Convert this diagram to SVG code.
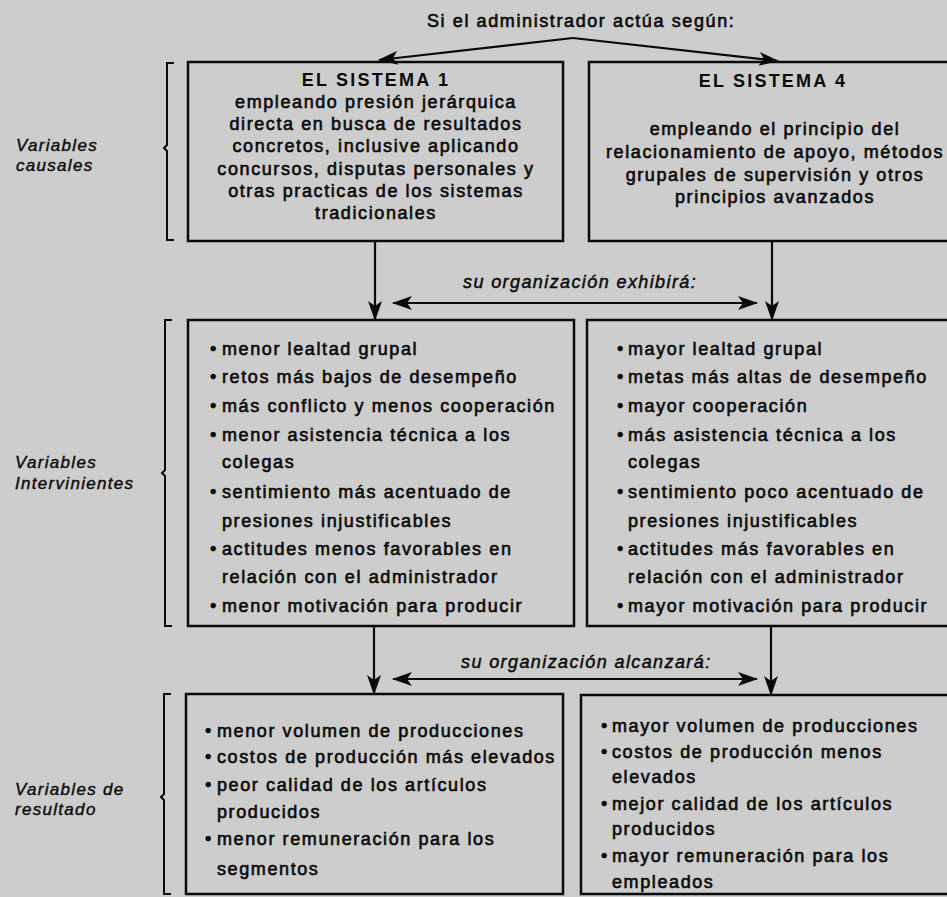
<svg xmlns="http://www.w3.org/2000/svg" width="947" height="897" viewBox="0 0 947 897">
<defs>
<style>
.bg{fill:#cdcdcd}
.box{fill:none;stroke:#0a0a0a;stroke-width:2.5}
.br{fill:none;stroke:#0a0a0a;stroke-width:2}
.t{font-family:"Liberation Sans",Arial,sans-serif;font-size:18px;letter-spacing:1.6px;fill:#0a0a0a;stroke:#0a0a0a;stroke-width:0.6}
.h{font-family:"Liberation Sans",Arial,sans-serif;font-size:18px;font-weight:bold;letter-spacing:2.2px;fill:#0a0a0a}
.c{text-anchor:middle}
.lab{font-family:"Liberation Sans",Arial,sans-serif;font-size:17px;font-style:italic;letter-spacing:1.3px;fill:#0a0a0a;stroke:#0a0a0a;stroke-width:0.4}
.it{font-family:"Liberation Sans",Arial,sans-serif;font-size:18px;font-style:italic;letter-spacing:1.4px;fill:#0a0a0a;stroke:#0a0a0a;stroke-width:0.45}
.ln{fill:none;stroke:#0a0a0a;stroke-width:2.2}
</style>
<marker id="ah" viewBox="0 0 20 14" refX="19" refY="7" markerWidth="20" markerHeight="14" markerUnits="userSpaceOnUse" orient="auto-start-reverse">
<path d="M0,0 L20,7 L0,14 L5,7 z" fill="#0a0a0a"/>
</marker>
</defs>
<rect class="bg" x="0" y="0" width="947" height="897"/>

<text class="t" x="427" y="27">Si el administrador actúa según:</text>

<g id="lbl-causales">
<text class="lab" x="16" y="151">Variables</text>
<text class="lab" x="16" y="171">causales</text>
<path class="br" d="M174,63 L167,63 L167,145 L164,148 L167,151 L167,240 L174,240"/>
</g>
<g id="lbl-intervinientes">
<text class="lab" x="15" y="468">Variables</text>
<text class="lab" x="15" y="489">Intervinientes</text>
<path class="br" d="M172,320 L165,320 L165,470 L162,473 L165,476 L165,626 L172,626"/>
</g>
<g id="lbl-resultado">
<text class="lab" x="15" y="795">Variables de</text>
<text class="lab" x="15" y="815">resultado</text>
<path class="br" d="M171,694 L164,694 L164,794 L161,797 L164,800 L164,894 L171,894"/>
</g>

<g id="sistema1">
<rect class="box" x="188" y="62" width="375" height="179"/>
<text class="h c" x="376" y="86">EL SISTEMA 1</text>
<text class="t c" x="376" y="108">empleando presión jerárquica</text>
<text class="t c" x="376" y="130">directa en busca de resultados</text>
<text class="t c" x="376" y="152">concretos, inclusive aplicando</text>
<text class="t c" x="376" y="175">concursos, disputas personales y</text>
<text class="t c" x="376" y="197">otras practicas de los sistemas</text>
<text class="t c" x="376" y="219">tradicionales</text>
</g>

<g id="sistema4">
<rect class="box" x="589" y="62" width="380" height="179"/>
<text class="h c" x="773" y="87">EL SISTEMA 4</text>
<text class="t c" x="775" y="135">empleando el principio del</text>
<text class="t c" x="775" y="158">relacionamiento de apoyo, métodos</text>
<text class="t c" x="775" y="181">grupales de supervisión y otros</text>
<text class="t c" x="775" y="203">principios avanzados</text>
</g>

<g id="intervinientes1">
<rect class="box" x="188" y="320" width="386" height="306"/>
<text class="t"><tspan x="210" y="355">•</tspan><tspan x="222" y="355">menor lealtad grupal</tspan></text>
<text class="t"><tspan x="210" y="383">•</tspan><tspan x="222" y="383">retos más bajos de desempeño</tspan></text>
<text class="t"><tspan x="210" y="412">•</tspan><tspan x="222" y="412">más conflicto y menos cooperación</tspan></text>
<text class="t"><tspan x="210" y="441">•</tspan><tspan x="222" y="441">menor asistencia técnica a los</tspan></text>
<text class="t" x="222" y="468">colegas</text>
<text class="t"><tspan x="210" y="498">•</tspan><tspan x="222" y="498">sentimiento más acentuado de</tspan></text>
<text class="t" x="222" y="527">presiones injustificables</text>
<text class="t"><tspan x="210" y="555">•</tspan><tspan x="222" y="555">actitudes menos favorables en</tspan></text>
<text class="t" x="222" y="583">relación con el administrador</text>
<text class="t"><tspan x="210" y="612">•</tspan><tspan x="222" y="612">menor motivación para producir</tspan></text>
</g>

<g id="intervinientes4">
<rect class="box" x="587" y="320" width="382" height="306"/>
<text class="t"><tspan x="617" y="355">•</tspan><tspan x="628" y="355">mayor lealtad grupal</tspan></text>
<text class="t"><tspan x="617" y="383">•</tspan><tspan x="628" y="383">metas más altas de desempeño</tspan></text>
<text class="t"><tspan x="617" y="412">•</tspan><tspan x="628" y="412">mayor cooperación</tspan></text>
<text class="t"><tspan x="617" y="441">•</tspan><tspan x="628" y="441">más asistencia técnica a los</tspan></text>
<text class="t" x="628" y="468">colegas</text>
<text class="t"><tspan x="617" y="498">•</tspan><tspan x="628" y="498">sentimiento poco acentuado de</tspan></text>
<text class="t" x="628" y="527">presiones injustificables</text>
<text class="t"><tspan x="617" y="555">•</tspan><tspan x="628" y="555">actitudes más favorables en</tspan></text>
<text class="t" x="628" y="583">relación con el administrador</text>
<text class="t"><tspan x="617" y="612">•</tspan><tspan x="628" y="612">mayor motivación para producir</tspan></text>
</g>

<g id="resultado1">
<rect class="box" x="186" y="694" width="377" height="200"/>
<text class="t"><tspan x="205" y="737">•</tspan><tspan x="217" y="737">menor volumen de producciones</tspan></text>
<text class="t"><tspan x="205" y="763">•</tspan><tspan x="217" y="763">costos de producción más elevados</tspan></text>
<text class="t"><tspan x="205" y="791">•</tspan><tspan x="217" y="791">peor calidad de los artículos</tspan></text>
<text class="t" x="217" y="818">producidos</text>
<text class="t"><tspan x="205" y="845">•</tspan><tspan x="217" y="845">menor remuneración para los</tspan></text>
<text class="t" x="217" y="875">segmentos</text>
</g>

<g id="resultado4">
<rect class="box" x="581" y="695" width="388" height="199"/>
<text class="t"><tspan x="601" y="732">•</tspan><tspan x="612" y="732">mayor volumen de producciones</tspan></text>
<text class="t"><tspan x="601" y="758">•</tspan><tspan x="612" y="758">costos de producción menos</tspan></text>
<text class="t" x="612" y="783">elevados</text>
<text class="t"><tspan x="601" y="810">•</tspan><tspan x="612" y="810">mejor calidad de los artículos</tspan></text>
<text class="t" x="612" y="835">producidos</text>
<text class="t"><tspan x="601" y="862">•</tspan><tspan x="612" y="862">mayor remuneración para los</tspan></text>
<text class="t" x="612" y="888">empleados</text>
</g>

<g id="connectors">
<path class="ln" d="M573,38 L379,60" marker-end="url(#ah)"/>
<path class="ln" d="M573,38 L778,61" marker-end="url(#ah)"/>
<path class="ln" d="M375,241 L375,320" marker-end="url(#ah)"/>
<path class="ln" d="M772,241 L772,320" marker-end="url(#ah)"/>
<path class="ln" d="M393,303 L757,303" marker-start="url(#ah)" marker-end="url(#ah)"/>
<text class="it" x="463" y="288">su organización exhibirá:</text>
<path class="ln" d="M374,626 L374,694" marker-end="url(#ah)"/>
<path class="ln" d="M771,626 L771,695" marker-end="url(#ah)"/>
<path class="ln" d="M393,679 L757,679" marker-start="url(#ah)" marker-end="url(#ah)"/>
<text class="it" x="461" y="668">su organización alcanzará:</text>
</g>
</svg>
